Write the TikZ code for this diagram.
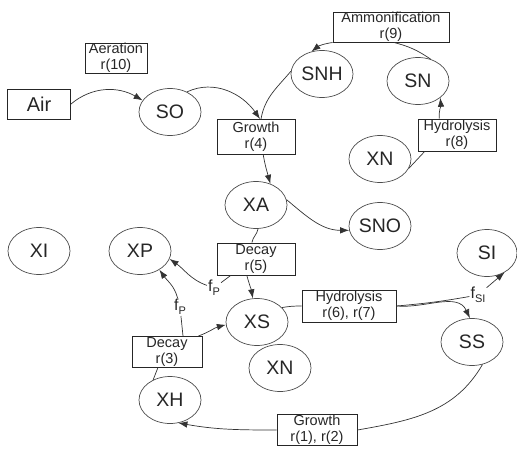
\documentclass[tikz,border=0pt]{standalone}
\usepackage{fontspec}
\setmainfont{Liberation Sans}
\usetikzlibrary{shapes.geometric,arrows.meta}
\begin{document}
\begin{tikzpicture}[x=1pt,y=1pt,
  ell/.style={ellipse,draw=black!70,line width=0.7pt,minimum width=62pt,minimum height=47pt,inner sep=0pt,font=\fontsize{19.5}{19.5}\selectfont,text=black!85},
  box/.style={rectangle,draw=black!85,line width=1pt,inner sep=0pt,align=center,font=\fontsize{14.5}{16}\selectfont,text=black!85},
  conn/.style={draw=black!80,line width=0.7pt},
  arr/.style={conn,-{Latex[length=9pt,width=6.5pt]}},
  lab/.style={inner sep=1pt,font=\fontsize{16}{16}\selectfont,text=black!85}
]
\useasboundingbox (0,0) rectangle (517,-450);
% nodes
\node[box,minimum width=63pt,minimum height=30pt,font=\fontsize{20}{20}\selectfont] (Air) at (39,-104) {Air};
\node[box,minimum width=62pt,minimum height=30pt] (Aer) at (116,-58) {Aeration\\r(10)};
\node[ell] (SO) at (170,-112) {SO};
\node[box,minimum width=78pt,minimum height=35pt] (G4) at (256,-137) {Growth\\r(4)};
\node[box,minimum width=116pt,minimum height=30pt] (Am) at (391,-27) {Ammonification\\r(9)};
\node[ell] (SNH) at (322,-74) {SNH};
\node[ell] (SN) at (418,-81) {SN};
\node[box,minimum width=78pt,minimum height=32pt] (H8) at (457,-135) {Hydrolysis\\r(8)};
\node[ell] (XNa) at (380,-159) {XN};
\node[ell] (XA) at (256,-205) {XA};
\node[ell] (SNO) at (380,-226) {SNO};
\node[ell] (XI) at (39,-251) {XI};
\node[ell] (XP) at (140,-251) {XP};
\node[ell,minimum width=60pt] (SI) at (487,-253) {SI};
\node[box,minimum width=78pt,minimum height=32pt] (D5) at (256,-259) {Decay\\r(5)};
\node[ell] (XS) at (257,-322) {XS};
\node[box,minimum width=94pt,minimum height=32pt] (H67) at (349,-306) {Hydrolysis\\r(6), r(7)};
\node[ell] (SS) at (472,-342) {SS};
\node[ell] (XNb) at (280,-368) {XN};
\node[box,minimum width=70pt,minimum height=31pt] (D3) at (167,-352) {Decay\\r(3)};
\node[ell] (XH) at (170,-400) {XH};
\node[box,minimum width=80pt,minimum height=31pt] (G12) at (317,-430) {Growth\\r(1), r(2)};
% labels
\node[lab] (fP1) at (214,-288) {f\raisebox{-4pt}{\fontsize{11}{11}\selectfont P}};
\node[lab] (fP2) at (180,-307) {f\raisebox{-4pt}{\fontsize{11}{11}\selectfont P}};
\node[lab] (fSI) at (478,-295) {f\raisebox{-4pt}{\fontsize{11}{11}\selectfont SI}};
% connectors
\draw[arr] (Air.east) to[out=40,in=150] (SO.157);
\draw[arr] (SO.50) to[out=25,in=125] ([xshift=4pt]G4.north);
\draw[conn] (SNH.175) to[out=230,in=80] ([xshift=5pt]G4.north);
\draw[arr] (Am.south west) to[bend right=15] (SNH.115);
\draw[conn] (SN.60) to[bend right=10] ([xshift=3pt]Am.south);
\draw[conn] (XNa.-18) -- (H8.207);
\draw[arr] (H8.137) to[out=95,in=-85] (SN.-37);
\draw[arr] (G4.-68) to[out=-80,in=105] (XA.56);
\draw[arr] (XA.10) to[out=-40,in=180] (SNO.188);
\draw[conn] (XA.-85) to[out=-100,in=80] (D5.104);
\draw[arr] (D5.241) to[out=-75,in=100] (XS.100);
\draw[conn] (D5.213) -- (fP1);
\draw[arr] (fP1) to[out=160,in=-35] (XP.-15);
\draw[conn] (D3.45) -- (fP2);
\draw[arr] (fP2) to[out=105,in=-55] (XP.-44);
\draw[arr] (D3.27) to[out=20,in=195] (XS.185);
\draw[conn] (XH.130) -- (D3.240);
\draw[conn] (XS.30) to[out=10,in=180] (H67.west);
\draw[arr] (H67.east) to[out=-5,in=115] (SS.95);
\draw[conn] (H67.east) to[out=5,in=190] (fSI);
\draw[arr] (fSI) -- (SI.-48);
\draw[conn] (SS.-65) to[out=-120,in=10] (G12.east);
\draw[arr] (G12.west) to[out=180,in=-10] (XH.-70);
\end{tikzpicture}
\end{document}
